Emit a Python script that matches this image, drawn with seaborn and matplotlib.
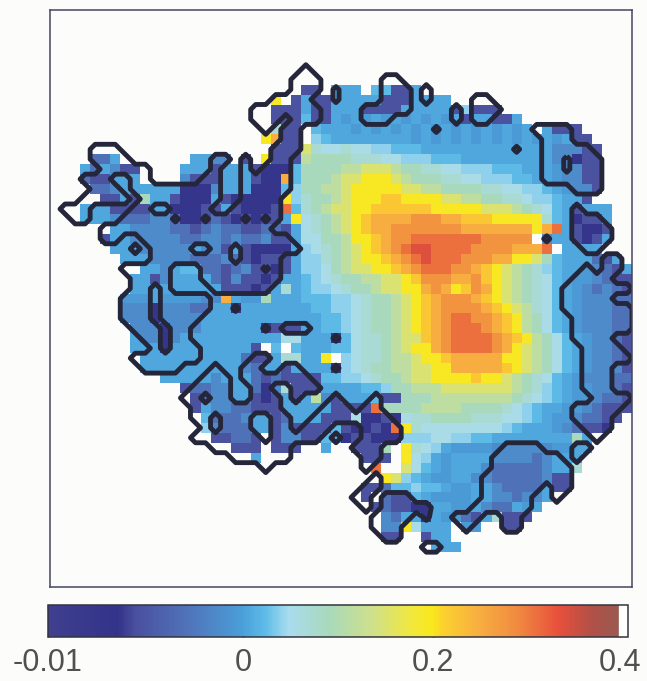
import numpy as np
import matplotlib
matplotlib.use("Agg")
import matplotlib.pyplot as plt
from matplotlib.colors import FuncNorm, LinearSegmentedColormap
import seaborn as sns

# accumulation change, one letter per grid cell, "." = no data
level_values = dict(a=-0.0072, b=-0.0052, c=-0.003, d=-0.0013, e=-0.0003, f=0.006, g=0.022,
                    h=0.04, i=0.055, j=0.07, k=0.09, l=0.115, m=0.15, n=0.195, o=0.222,
                    p=0.25, q=0.28, r=0.31, s=0.34)
first_row = 8
n_rows, n_cols = 59, 58
west_width = 25

west_rows = [
    "",
    "......................n.b",
    "......................bbb",
    "......................bbb",
    "......................jbb",
    ".....................npbb",
    "......................bbb",
    "....ccf.......ffdd.b.nbbb",
    "...fcfdbb....fffbfffbaaag",
    "...cbbfff....dbbbfffbaapg",
    "....ccdffffffaaadfffaaagh",
    ".....bbfbkffbaaafbaaaaanh",
    "...fffbbbbffaaabbfbaaabrg",
    "...fffdcccddcaabcbababbfn",
    "......ffddddccbcdccbbccbf",
    ".....bffdddddccddcdccdbbf",
    "......fffdddddfddbfbaaaaf",
    ".......fffddddcccdcbabbbf",
    ".........ffdfggccbcdbbabf",
    "........ffbdffffcbdbbabff",
    "........fffffffffbbbabfjf",
    ".......eeefeeeeddpfeekfff",
    ".......dddadddccffaffffff",
    ".......dddaddddffffffffff",
    "........dddadddffffffabbb",
    "........fddadffffffffffiii",
    "........fffaffffffffb.g.g",
    ".........ffffffffffcbbfjj",
    ".........ffffffffffdcffbf",
    "...........fffffdfffcbcbb",
    ".............bccddffcadjb",
    "..............bcddffbabfb",
    "..............bfddccbbbff",
    "...............gcccdffbcf",
    "...............hdcccffbdb",
    "................bbccb.bdd",
    "..................bbb.bbb",
    "....................f....",
    "", "", "", "", "", "", "", "", "",
]

east_rows = [
    "bb.fff.ggbbf",
    "fbbfffffbbbffff",
    "fbbfffbbbbfffffbhbbb",
    "gbbfefefefefefefbffbbf",
    ".gfffefefefefefefefefef.fbbb",
    ".hgffffffffefefefefefefefefbb",
    "mjiijiihhgggfffffffffffffdddbb",
    "lkkkkjjjiihhhgggfffffffffddabb",
    "kkkkllmmmlkkjjiihhhgggfffeddbb",
    "kkklmmnnnmlkkkjjiihhhggffeddbb",
    "kkllmnnnnnmmllkkkkjjiihhgfeddb",
    "jkklmnnnoonnnnmmllkkjjihhgffb",
    "jklmmnnoooooonnnnnmmmlkjigfbfff",
    "ijklmnoppppqqqppooonnnnnjgfabbf",
    "ijklmnoppqqqqqqqpppppppnprfbaab",
    "iikklnnopqqrrrrrrrqqqqq.dffbabf",
    "hijklmnopqrssrrrrqqqqpppr.ffff",
    "hhjklmnnopqrsrrrqqqppnnmkgfffcbf",
    "hhiklmmnnopqrrrqqponmlkjhgffedcbf",
    "ghijkkllmmnoqqqppqonmlkjigfeedcbb",
    "ghhijkklmmnnpqpnoqpnmlkjigfedcdcb",
    "ggghhijkklmnopqqqponmlkjigfedddcc",
    "fgghhijkklmnopqqqqponmljigfedddcc",
    "ffgghijkklmnopqrrqqponlkigfedddcc",
    "ffgghijkklmnopqrrrqponlkigfedddcc",
    "fffagijjklmmopqrrrrqponlkigfeddcb",
    "fffggijjklmnnpqrrrrqpnmlkigfeddcb",
    "ffn.hijjkllmnnopppppnnmlkigfeddcb",
    "fffahijkkllmmnnppppponmlkigfedddb",
    "bbgghhijkklmmnnnnonnmlkjigfedddcc",
    "bbffffgghkklllmmmmmmmlkjhgfeeddcb",
    "fldbfffgbbkkkllllllllkjihgfeedccb",
    "fffbbbbrkkkkllllkkkkjihgffeedcbbb",
    "ffbbbiaabaijjkkkkjjjiihgfeedccbb.",
    "bbbgbaabarnjiiiiiiiihgfffedcbba..",
    "bbggabbaaahhhiihhggffffffffkf",
    "..f..bbbk.njihfeeeeddddddeeff",
    "......bbb.nihfeffffddddcdfff",
    ".......r..migfefffdcccccdffj",
    "........nmhgfeeffddcccccdbb",
    "......bbcgghggfeeffdccccfbb",
    "......b.cbbgfeeeeffddcddf",
    ".......bcbbaaffeefdccfef",
    "........dcffafeecbfjbbb",
    "........ddnifff.ee..bb",
    "........bb..bff",
    ".............fff",
]

# cells inside the zero contour: row -> runs of columns
below_zero = {
    6: [(25, 25)],
    7: [(24, 26), (33, 34)],
    8: [(24, 26), (28, 28), (33, 35), (37, 37)],
    9: [(22, 25), (28, 28), (33, 35), (37, 37), (42, 43)],
    10: [(20, 26), (31, 35), (40, 40), (42, 44)],
    11: [(20, 22), (24, 26), (31, 33), (40, 40), (42, 43)],
    12: [(21, 21), (23, 24), (38, 38), (48, 51)],
    13: [(23, 24), (49, 51)],
    14: [(4, 6), (22, 24), (46, 46), (49, 53)],
    15: [(4, 7), (16, 17), (19, 19), (22, 23), (49, 50), (52, 54)],
    16: [(5, 9), (16, 16), (19, 19), (21, 23), (49, 50), (52, 54)],
    17: [(3, 5), (8, 9), (15, 16), (19, 23), (49, 54)],
    18: [(4, 6), (8, 16), (19, 23), (52, 54)],
    19: [(3, 7), (9, 16), (19, 22)],
    20: [(1, 3), (8, 9), (12, 15), (18, 22), (52, 52)],
    21: [(2, 3), (7, 11), (13, 14), (16, 18), (20, 20), (22, 22), (52, 54)],
    22: [(5, 21), (52, 55)],
    23: [(5, 6), (9, 23), (49, 49), (52, 55)],
    24: [(8, 8), (10, 13), (16, 17), (19, 24), (53, 54)],
    25: [(10, 17), (19, 22), (55, 56)],
    26: [(7, 11), (15, 20), (22, 22), (53, 53), (55, 56)],
    27: [(8, 11), (15, 22), (52, 55)],
    28: [(8, 9), (11, 11), (16, 21), (51, 57)],
    29: [(7, 9), (11, 15), (51, 55)],
    30: [(7, 9), (11, 15), (18, 18), (51, 57)],
    31: [(7, 9), (11, 14), (52, 57)],
    32: [(8, 10), (12, 13), (21, 21), (23, 25), (52, 57)],
    33: [(9, 10), (12, 13), (28, 28), (52, 55)],
    34: [(10, 10), (12, 14), (53, 56)],
    35: [(8, 14), (20, 21), (53, 57)],
    36: [(9, 12), (16, 16), (19, 20), (23, 24), (28, 28), (53, 55)],
    37: [(15, 17), (19, 25), (53, 55)],
    38: [(14, 17), (20, 21), (24, 26), (53, 55)],
    39: [(13, 14), (16, 17), (20, 22), (24, 24), (28, 28), (32, 32), (54, 57)],
    40: [(14, 22), (27, 29), (31, 32), (52, 56)],
    41: [(14, 15), (17, 19), (22, 23), (26, 33), (52, 55)],
    42: [(15, 15), (17, 19), (22, 23), (25, 27), (31, 34), (53, 55)],
    43: [(14, 20), (22, 26), (28, 28), (31, 34), (54, 54)],
    44: [(16, 23), (30, 32), (45, 48), (52, 53)],
    45: [(18, 23), (31, 32), (44, 50), (52, 52)],
    46: [(21, 21), (31, 31), (44, 51)],
    47: [(32, 32), (43, 51)],
    48: [(31, 32), (43, 48), (50, 51)],
    49: [(30, 31), (33, 35), (43, 47), (50, 50)],
    50: [(31, 31), (33, 37), (42, 47)],
    51: [(32, 35), (37, 37), (40, 42), (45, 46)],
    52: [(32, 34), (41, 41), (45, 46)],
    53: [(33, 34)],
    54: [(37, 38)],
}

# cells only just across the contour, so they close up into solid dots
near_zero = [(8, 28), (9, 28), (12, 38), (14, 46), (15, 51), (16, 51), (21, 12), (21, 15),
             (21, 19), (21, 21), (23, 49), (26, 21), (30, 18), (32, 21), (33, 28), (36, 28),
             (51, 37)]

bar_ticks = [-0.01, 0, 0.2, 0.4]
bar_labels = ["-0.01", "0", "0.2", "0.4"]
bar_stops = [-0.01, 0, 0.2, 0.4, 0.417]
bar_pixels = [0, 195, 385, 572, 580]
bar_colors = [(0, "#403f8f"), (0.12, "#32338a"), (0.15, "#4a4f9e"), (0.25, "#5077bd"),
              (0.335, "#4a9fd9"), (0.375, "#5fbce8"), (0.415, "#a9dcee"), (0.485, "#a9d9bb"),
              (0.56, "#cfe08a"), (0.63, "#f3e83a"), (0.664, "#f8e81c"), (0.68, "#fbd22e"),
              (0.74, "#f8b040"), (0.81, "#f08a40"), (0.88, "#e8503c"), (0.94, "#b05048"),
              (0.984, "#9a5a50"), (0.986, "#ffffff"), (1, "#ffffff")]


def build_grid():
    grid = np.full((n_rows, n_cols), np.nan)
    for idx, (w, e) in enumerate(zip(west_rows, east_rows)):
        row = w.ljust(west_width, ".")[:west_width] + e.ljust(n_cols - west_width, ".")
        for col, ch in enumerate(row[:n_cols]):
            if ch != ".":
                grid[first_row + idx, col] = level_values[ch]
    return grid


def build_field():
    field = np.zeros((n_rows, n_cols))
    for row, runs in below_zero.items():
        for c0, c1 in runs:
            field[row, c0:c1 + 1] = 1
    for row, col in near_zero:
        field[row, col] = 0.72 if field[row, col] else 0.28
    return field


sns.set_style("white")
plt.rcParams["font.family"] = ["Liberation Sans", "DejaVu Sans"]
paper = "#fcfdfb"
W, H = 647, 681
fig = plt.figure(figsize=(W / 100, H / 100), dpi=100, facecolor=paper)
ax = fig.add_axes([50 / W, 1 - 587 / H, 582 / W, 577 / H])
cax = fig.add_axes([48 / W, 1 - 637 / H, 580 / W, 32 / H])

cmap = LinearSegmentedColormap.from_list("accum", bar_colors, N=512)
cmap.set_bad(paper)
norm = FuncNorm((lambda v: np.interp(v, bar_stops, bar_pixels),
                 lambda p: np.interp(p, bar_pixels, bar_stops)),
                vmin=bar_stops[0], vmax=bar_stops[-1])

sns.heatmap(build_grid(), ax=ax, cmap=cmap, norm=norm, cbar_ax=cax,
            cbar_kws={"orientation": "horizontal"},
            xticklabels=False, yticklabels=False)

# padded so that islands touching the edge still close
field = np.pad(build_field(), 1)
xs = np.arange(-1, n_cols + 1) + 0.5
ys = np.arange(-1, n_rows + 1) + 0.5
ax.contour(xs, ys, field, levels=[0.5], colors="#25263a", linewidths=3.5)
ax.set_xlim(0, n_cols)
ax.set_ylim(n_rows - 0.5, 0.5)
ax.set_facecolor(paper)
for spine in ax.spines.values():
    spine.set_visible(True)
    spine.set_color("#45465f")
    spine.set_linewidth(1.1)

cb = ax.collections[0].colorbar
cb.set_ticks(bar_ticks, labels=bar_labels)
cb.ax.minorticks_off()
cb.ax.tick_params(axis="x", direction="in", length=3, width=1, color="#222222",
                  labelsize=22, labelcolor="#505050", pad=8, top=True)
cb.outline.set_visible(True)
cb.outline.set_edgecolor("#33343f")
cb.outline.set_linewidth(1.1)

fig.savefig("out.png", dpi=100, facecolor=paper)
